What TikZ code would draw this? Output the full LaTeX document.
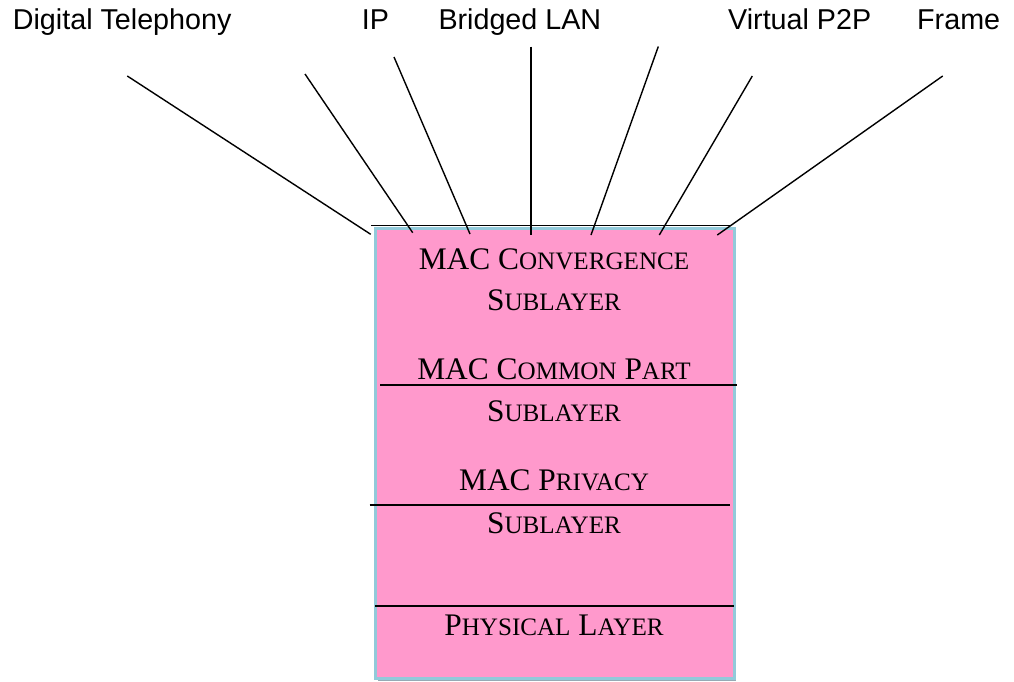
\documentclass[tikz,border=0pt]{standalone}
\usepackage{fontspec}
\setmainfont{Liberation Sans}
\newfontfamily\serifrm{Liberation Serif}
\definecolor{layerpink}{RGB}{255,153,204}
\definecolor{layeredge}{RGB}{146,202,218}
\definecolor{layershade}{RGB}{150,170,180}
% small capitals built from two sizes of Liberation Serif
\newcommand\lsc[1]{{\fontsize{25.1pt}{30pt}\selectfont #1}}
\tikzset{
  toplabel/.style={anchor=base west, inner sep=0pt, font=\fontsize{28.7pt}{33pt}\selectfont},
  layertext/.style={anchor=base, inner sep=0pt, font=\serifrm\fontsize{31.4pt}{36pt}\selectfont},
  feed/.style={line width=1.4pt, black},
  divider/.style={line width=1.4pt, black}
}
\begin{document}
\begin{tikzpicture}[x=1pt,y=-1pt]
\useasboundingbox (0,0) rectangle (1014,681);

% protocol stack box
\fill[layershade] (378,229) rectangle (736,681);
\fill[layeredge] (374,227) rectangle (735.5,680);
\fill[layerpink] (377,229.5) rectangle (732.5,677);

% dividers
\draw[divider] (371,225.7) -- (730,225.7);
\draw[divider] (380,385) -- (736.5,385);
\draw[divider] (369.5,505) -- (730,505);
\draw[divider] (375,606) -- (734,606);

% layer names
\node[layertext] (conv)  at (554,269)   {MAC C\lsc{ONVERGENCE}};
\node[layertext] (convs) at (554,310)   {S\lsc{UBLAYER}};
\node[layertext] (cps)   at (554,379.5) {MAC C\lsc{OMMON} P\lsc{ART}};
\node[layertext] (cpss)  at (554,421.7) {S\lsc{UBLAYER}};
\node[layertext] (priv)  at (554,490)   {MAC P\lsc{RIVACY}};
\node[layertext] (privs) at (554,533)   {S\lsc{UBLAYER}};
\node[layertext] (phy)   at (554,635)   {P\lsc{HYSICAL} L\lsc{AYER}};

% service labels
\node[toplabel] (tel)   at (12.7,29.3)  {Digital Telephony};
\node[toplabel] (ip)    at (361.7,29.3) {IP};
\node[toplabel] (lan)   at (438.3,29.3) {Bridged LAN};
\node[toplabel] (p2p)   at (728,29.3)   {Virtual P2P};
\node[toplabel] (frame) at (917,29.3)   {Frame};

% service access feeds into the convergence sublayer
\coordinate (t1) at (127.3,76);   \coordinate (b1) at (370.7,234.3);
\coordinate (t2) at (305,74);     \coordinate (b2) at (412.7,232.7);
\coordinate (t3) at (394,57);     \coordinate (b3) at (470,234);
\coordinate (t4) at (531,46.5);   \coordinate (b4) at (531,235);
\coordinate (t5) at (658.3,46.5); \coordinate (b5) at (591,235);
\coordinate (t6) at (752.3,76);   \coordinate (b6) at (659.3,235);
\coordinate (t7) at (942.7,76);   \coordinate (b7) at (717.3,235);
\foreach \i in {1,...,7} \draw[feed] (t\i) -- (b\i);
\end{tikzpicture}
\end{document}
